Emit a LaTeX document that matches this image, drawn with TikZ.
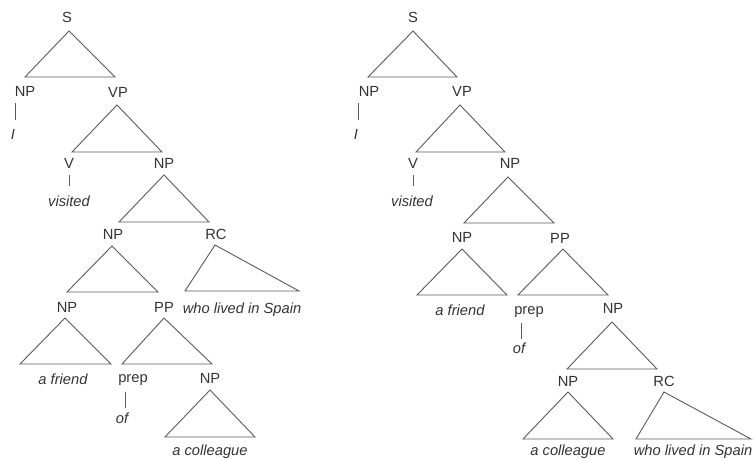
\documentclass[tikz,border=0pt]{standalone}
\usepackage{fontspec}
\setmainfont{Liberation Sans}
\definecolor{txt}{HTML}{333333}
\definecolor{ln}{HTML}{5A5A5A}
\tikzset{
  lab/.style={anchor=base, inner sep=0pt, text=txt, font=\fontsize{14.7}{17}\selectfont},
  word/.style={lab, font=\fontsize{14.7}{17}\selectfont\itshape},
  tri/.style={draw=ln, line width=0.9pt, line join=miter},
  bar/.style={draw=ln, line width=0.9pt}
}
\newcommand{\mytri}[5]{\draw[tri] (#1,#2) -- (#3,#5) -- (#4,#5) -- cycle;}
\begin{document}
\begin{tikzpicture}[x=1pt,y=-1pt]
\useasboundingbox (0,0) rectangle (753,459);
% ---------------- left tree ----------------
\node[lab] (lS) at (67,22) {S};
\node[lab] (lNP1) at (25,96) {NP};
\node[lab] (lVP) at (118,97) {VP};
\node[word] (lI) at (13,139) {I};
\node[lab] (lV) at (69,168) {V};
\node[lab] (lNP2) at (164,168) {NP};
\node[word] (lvisited) at (69,206) {visited};
\node[lab] (lNP3) at (113,239) {NP};
\node[lab] (lRC) at (216,239) {RC};
\node[lab] (lNP4) at (67,312) {NP};
\node[lab] (lPP) at (164,312) {PP};
\node[word] (lwho) at (242,313) {who lived in Spain};
\node[word] (lfriend) at (63,384) {a friend};
\node[lab] (lprep) at (133,382) {prep};
\node[lab] (lNP5) at (210,383) {NP};
\node[word] (lof) at (122,423) {of};
\node[word] (lcoll) at (210,455) {a colleague};
\mytri{69}{31}{25}{115}{77}
\mytri{117}{105}{72}{162}{152}
\mytri{164}{175}{119}{209}{222}
\mytri{112}{246}{67}{158}{292}
\mytri{215}{245}{185}{299}{291}
\mytri{65}{318}{20}{111}{364}
\mytri{164}{318}{122}{212}{364}
\mytri{210}{390}{165}{255}{437}
\draw[bar] (15,103) -- (15,120);
\draw[bar] (69,175) -- (69,186);
\draw[bar] (125,392) -- (125,408);
% ---------------- right tree ----------------
\node[lab] (rS) at (413,22) {S};
\node[lab] (rNP1) at (369,96) {NP};
\node[lab] (rVP) at (462,96) {VP};
\node[word] (rI) at (356,139) {I};
\node[lab] (rV) at (413,168) {V};
\node[lab] (rNP2) at (510,168) {NP};
\node[word] (rvisited) at (412,206) {visited};
\node[lab] (rNP3) at (462,242) {NP};
\node[lab] (rPP) at (560,243) {PP};
\node[word] (rfriend) at (460,315) {a friend};
\node[lab] (rprep) at (529,314) {prep};
\node[lab] (rNP4) at (613,313) {NP};
\node[word] (rof) at (519,353) {of};
\node[lab] (rNP5) at (568,386) {NP};
\node[lab] (rRC) at (664,386) {RC};
\node[word] (rcoll) at (568,455) {a colleague};
\node[word] (rwho) at (693,455) {who lived in Spain};
\mytri{413}{31}{368}{457}{77}
\mytri{460}{105}{416}{505}{152}
\mytri{508}{177}{464}{554}{223}
\mytri{462}{249}{417}{507}{295}
\mytri{563}{249}{518}{608}{295}
\mytri{612}{322}{567}{657}{369}
\mytri{568}{392}{523}{613}{439}
\mytri{664}{392}{636}{751}{439}
\draw[bar] (358,103) -- (358,120);
\draw[bar] (413,175) -- (413,186);
\draw[bar] (521,323) -- (521,339);
\end{tikzpicture}
\end{document}
